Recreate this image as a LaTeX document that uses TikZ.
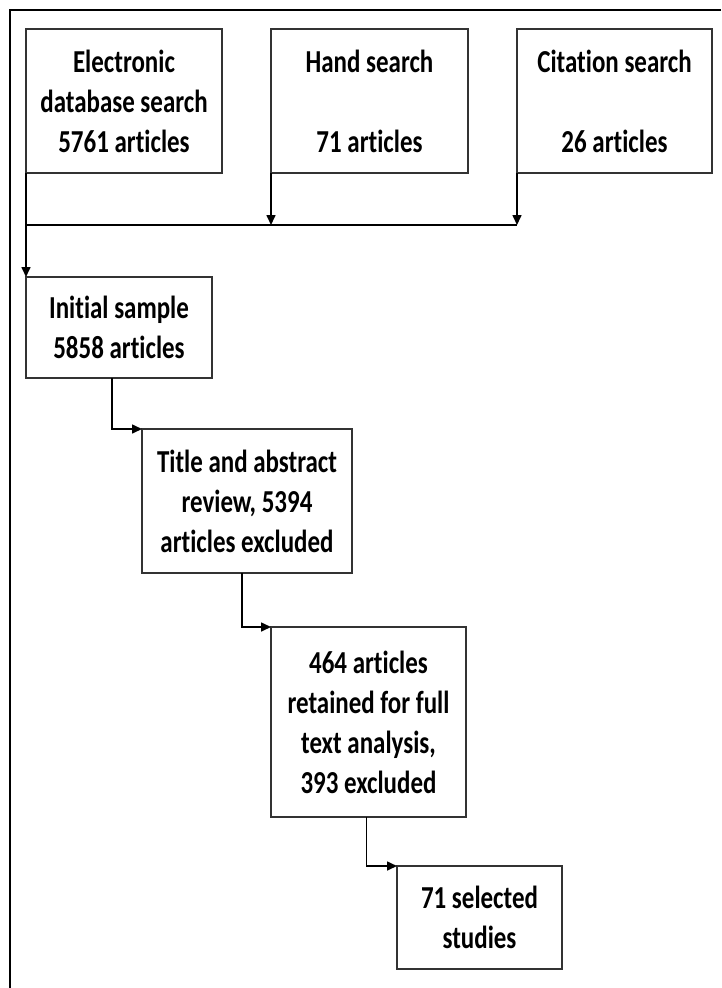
\documentclass[tikz,border=0pt]{standalone}
\usepackage{fontspec}
\setmainfont{Carlito}[FakeStretch=0.78, Ligatures=NoCommon]
\usetikzlibrary{arrows.meta}

\begin{document}
\begin{tikzpicture}[x=1pt, y=-1pt, font=\fontsize{32}{40}\selectfont\bfseries, every node/.style={draw=black!80, line width=1.5pt, align=center, inner sep=0pt, outer sep=0pt}, arr/.style={line width=1.6pt, -{Triangle[length=10pt, width=9pt]}}, line join=miter]

	\useasboundingbox (0, 0) rectangle (721, 988);

	% Khung ngoai
	\draw[line width=2.6pt] (721, 10) -- (10, 10) -- (10, 988);

	% Ba nguon tim kiem
	\node[minimum width=196pt, minimum height=144pt] (elec) at (124, 101) {Electronic\\database search\\5761 articles};
	\node[minimum width=197pt, minimum height=144pt] (hand) at (369.5, 101) {Hand search\\[40pt]71 articles};
	\node[minimum width=195pt, minimum height=144pt] (cite) at (614.5, 101) {Citation search\\[40pt]26 articles};
	\coordinate (join) at (0, 225);

	% Cac buoc sang loc
	\node[minimum width=186pt, minimum height=101pt] (init) at (119, 327.5) {Initial sample\\5858 articles};
	\node[minimum width=210pt, minimum height=144pt] (title) at (247, 501) {Title and abstract\\review, 5394\\articles excluded};
	\node[minimum width=195pt, minimum height=190pt] (kept) at (368.5, 722) {464 articles\\retained for full\\text analysis,\\393 excluded};
	\node[minimum width=165pt, minimum height=103pt] (sel) at (479.5, 917.5) {71 selected\\studies};

	% Mui ten
	\draw[arr] (elec.south west) -- (init.north west);
	\draw[line width=1.6pt] (elec.south west |- join) -- (cite.south west |- join);
	\draw[arr] (hand.south west) -- (hand.south west |- join);
	\draw[arr] (cite.south west) -- (cite.south west |- join);
	\draw[arr] ([xshift=-7pt]init.south) |- (title.north west);
	\draw[arr] ([xshift=-5pt]title.south) |- (kept.north west);
	\draw[arr] ([xshift=-2pt]kept.south) |- (sel.north west);

\end{tikzpicture}
\end{document}
